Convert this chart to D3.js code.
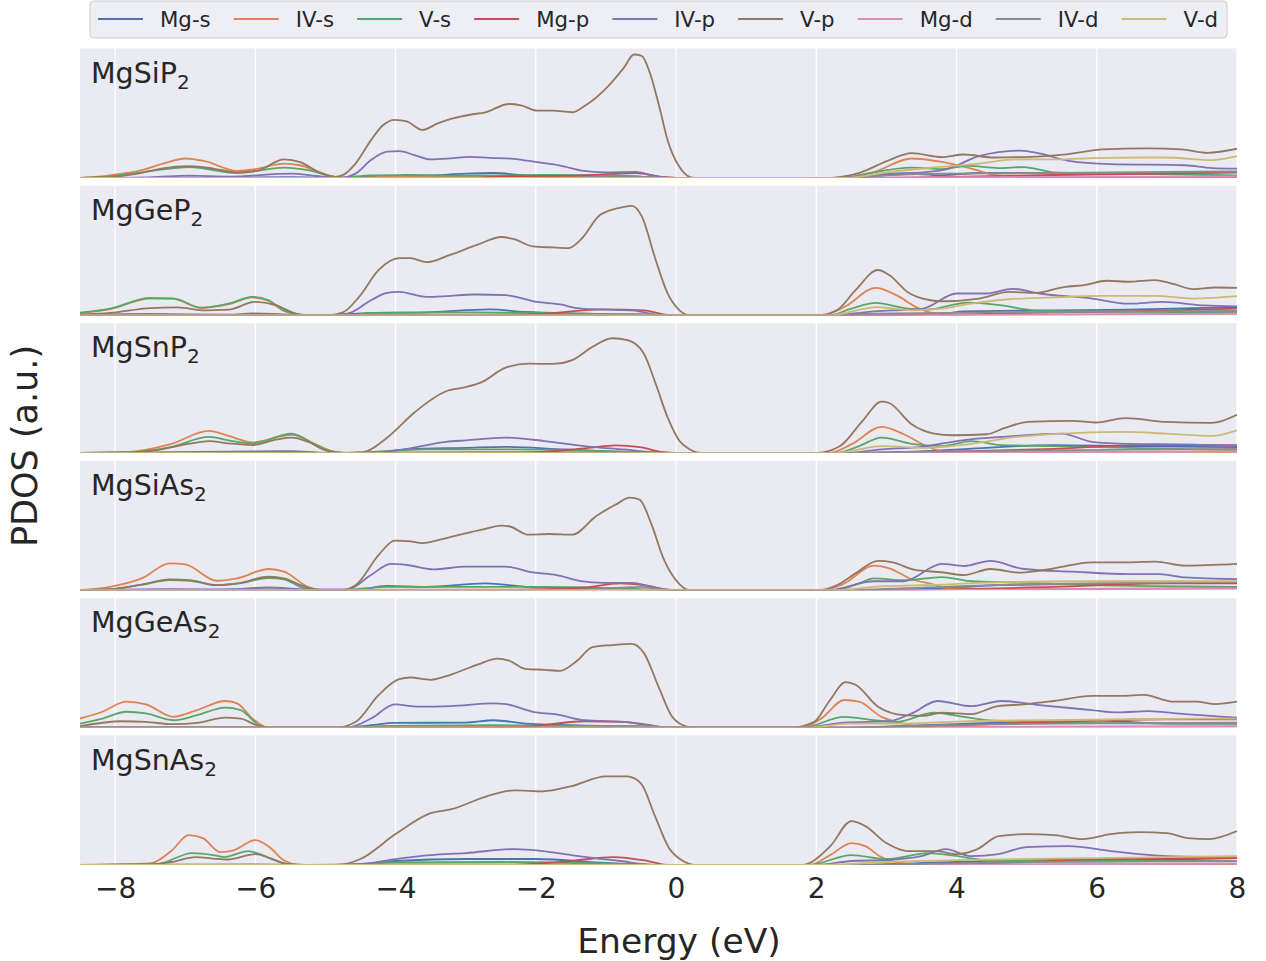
<!DOCTYPE html>
<html>
<head>
<meta charset="utf-8">
<script src="https://cdn.jsdelivr.net/npm/d3@7"></script>
<style>
  body { margin: 0; background: #ffffff; }
  svg { display: block; font-family: "DejaVu Sans", sans-serif; }
</style>
</head>
<body>
<svg id="chart" width="1266" height="961"></svg>
<script>
// ---- orbital channels, colours, tick values ----
const orbitals = ["Mg-s", "IV-s", "V-s", "Mg-p", "IV-p", "V-p", "Mg-d", "IV-d", "V-d"];
const colors = ["#4C72B0", "#DD8452", "#55A868", "#C44E52", "#8172B3", "#937860", "#DA8BC3", "#8C8C8C", "#CCB974"];
const xTicks = [-8, -6, -4, -2, 0, 2, 4, 6, 8];
const compoundBase = ["MgSiP", "MgGeP", "MgSnP", "MgSiAs", "MgGeAs", "MgSnAs"];
const compoundSub = ["2", "2", "2", "2", "2", "2"];

// ---- PDOS curves: [energy (eV), PDOS (a.u.)] ----
// MgSiP2
const MgSiP2_Mg_s = [[-8.5,0],[-7,0.3],[-5.5,0.8],[-4.8,0],[-4.35,1.7],[-3.56,2.4],[-3.0,4.4],[-2.6,5],[-2.15,2.7],[-1.31,1.7],[-0.18,0],[2.4,0],[2.72,1],[3.25,4.4],[3.79,2.7],[4.32,5],[5.39,5],[6.46,5],[8.0,5.7]];
const MgSiP2_IV_s = [[-8.5,0],[-8.07,2.7],[-7.62,7.8],[-7.28,15.2],[-7.0,19.6],[-6.72,16.9],[-6.26,7.1],[-5.98,9.1],[-5.59,14.5],[-5.36,12.8],[-5.03,4.4],[-4.86,1],[-4.6,0.3],[-4.2,1],[-2,1],[-0.3,1],[0,0],[2.2,0],[2.82,6],[3.36,19.6],[3.79,16.2],[4.21,9.5],[4.59,2.7],[5.12,1],[8.0,1]];
const MgSiP2_V_s = [[-8.5,0],[-8.07,1.7],[-7.5,7],[-6.94,11],[-6.26,5],[-5.59,10.5],[-5.25,7.8],[-4.97,2.7],[-4.8,0.3],[-4.35,2.7],[-3.84,3],[-3.0,2.4],[-1.87,3],[-0.74,2],[-0.18,0],[2.4,0],[2.72,4.4],[3.36,10.5],[3.79,9],[4.16,12.2],[4.59,10],[4.96,11],[5.39,5.7],[6.46,4.4],[8.0,2.7]];
const MgSiP2_Mg_p = [[-8.5,0],[-3,0],[-2.43,1.7],[-1.31,2.7],[-0.57,5],[-0.18,1],[0.05,0],[2.6,0],[4.32,1.7],[5.39,3],[6.99,4.4],[8.0,5.7]];
const MgSiP2_IV_p = [[-8.5,0],[-7.5,0.7],[-6.94,2.4],[-6.38,1.4],[-5.48,4.4],[-5.14,2],[-4.8,0],[-4.57,4.4],[-4.35,18],[-4.12,26.4],[-3.95,27],[-3.73,23],[-3.5,18.6],[-3.22,19.6],[-2.94,21.3],[-2.66,20.3],[-2.32,19.3],[-1.98,15.9],[-1.65,12.5],[-1.31,7.1],[-1.03,5.7],[-0.57,6.1],[-0.35,2.7],[-0.07,0],[2.29,0],[3.04,4.4],[3.52,5.7],[3.89,9.5],[4.32,22],[4.91,27.4],[5.18,24.7],[5.6,17.2],[6.19,13.9],[7.26,12.8],[7.64,10],[8.0,9.5]];
const MgSiP2_V_p = [[-8.5,0],[-8.07,1],[-7.67,4.4],[-7.34,9.5],[-6.94,11.8],[-6.6,9.5],[-6.26,5.7],[-5.98,7.1],[-5.59,18.6],[-5.36,15.9],[-5.08,5.4],[-4.86,1.2],[-4.74,3.4],[-4.57,14.5],[-4.35,38],[-4.18,53],[-4.01,58.4],[-3.84,56.8],[-3.62,48.3],[-3.39,55],[-3.17,60],[-2.94,63.5],[-2.72,66],[-2.38,74.3],[-2.21,73],[-1.98,67.6],[-1.76,67.6],[-1.48,66],[-1.31,72],[-0.97,92],[-0.74,111],[-0.6,124],[-0.49,122.6],[-0.38,107],[-0.24,72],[-0.12,38],[0.05,11],[0.2,1],[0.3,0],[2.1,0],[2.61,5],[3.04,18],[3.36,25],[3.79,21],[4.1,23.6],[4.53,20.6],[5.07,21.3],[5.6,24],[6.09,28.7],[6.73,29.7],[7.21,28.7],[7.58,25.3],[8.0,29.4]];
const MgSiP2_Mg_d = [[-8.5,0],[2.5,0],[3.25,0.7],[5.39,1],[8.0,1.7]];
const MgSiP2_IV_d = [[-8.5,0],[-1.5,0],[-0.85,2.7],[-0.3,0.5],[0,0],[2.4,0],[3.04,2.7],[3.79,4.4],[5.39,5],[8.0,6.7]];
const MgSiP2_V_d = [[-8.5,0],[2.4,0],[3.04,6],[3.52,9.5],[4.32,14.5],[4.86,18.6],[5.39,18.6],[6.09,20.3],[6.99,20.6],[7.64,18],[8.0,22]];

// MgGeP2
const MgGeP2_Mg_s = [[-8.5,0],[-5,0],[-4.35,2.4],[-3.56,3],[-2.66,6],[-2.15,3.4],[-1.31,1.7],[-0.18,0],[2.6,0],[3.79,1.7],[4.11,4],[5.39,5],[6.46,5.7],[8.0,8.4]];
const MgGeP2_IV_s = [[-8.5,2.4],[-8.07,6.4],[-7.5,16.9],[-7.17,16.5],[-6.77,7.4],[-6.38,11.2],[-6.04,18],[-5.81,14.5],[-5.59,4.5],[-5.36,0.5],[-5.14,0],[-4.5,0.5],[-2,0.7],[-0.3,0.5],[0,0],[2.07,0],[2.4,8.4],[2.85,27.7],[3.14,20.3],[3.47,6.8],[3.79,0.7],[5,0.5],[8.0,1.7]];
const MgGeP2_V_s = [[-8.5,2.7],[-8.07,6.8],[-7.5,17.6],[-7.17,17],[-6.77,7.8],[-6.38,11.8],[-6.04,18.6],[-5.81,15.2],[-5.59,5],[-5.36,0.7],[-5.14,0],[-4.69,0],[-4.35,2.4],[-3.0,3],[-1.87,2.4],[-0.74,1],[-0.18,0],[2.18,0],[2.5,6.8],[2.85,12.5],[3.25,7.4],[3.57,5.7],[4.16,12.8],[4.64,10],[5.12,5],[5.93,4],[8.0,3]];
const MgGeP2_Mg_p = [[-8.5,0],[-2.5,0],[-1.87,1.7],[-1.03,6],[-0.46,5],[-0.07,0],[2.6,0],[3.79,0.5],[4.86,2.4],[6.46,4],[8.0,6.8]];
const MgGeP2_IV_p = [[-8.5,0.7],[-7.5,1.4],[-6.38,0.7],[-6.04,2],[-5.59,1],[-5.14,0],[-4.69,1.7],[-4.35,15.2],[-4.12,22.6],[-3.95,23.6],[-3.56,18.6],[-3.28,19.3],[-2.88,21],[-2.43,20.3],[-1.98,13.5],[-1.65,11],[-1.42,7.4],[-1.08,6],[-0.63,5],[-0.18,0],[2.18,0],[2.82,4],[3.52,6.8],[4.0,22],[4.43,22],[4.8,26.7],[5.18,22],[5.93,16.9],[6.46,11.8],[6.94,13.5],[7.53,10],[8.0,9.1]];
const MgGeP2_V_p = [[-8.5,0.7],[-8.07,2.4],[-7.5,7.4],[-7.11,8.1],[-6.72,5],[-6.38,5.7],[-6.01,13.5],[-5.7,10],[-5.42,1.7],[-5.25,0],[-4.97,0],[-4.74,3.4],[-4.52,18.6],[-4.24,45.6],[-3.95,57.4],[-3.79,57.4],[-3.56,53.4],[-3.22,60.8],[-2.83,71],[-2.49,78.7],[-2.32,76.7],[-2.04,69.3],[-1.76,68.2],[-1.53,67.6],[-1.36,76],[-1.08,101],[-0.74,109],[-0.63,110],[-0.49,99.7],[-0.29,55.7],[-0.12,22],[0.05,5],[0.2,0],[2.02,0],[2.29,5],[2.56,25.3],[2.88,45.6],[3.04,40.5],[3.3,23.6],[3.63,15.2],[3.79,14.2],[4.32,16.9],[4.75,23.6],[5.12,22.6],[5.55,28.7],[5.82,30.4],[6.14,34.8],[6.46,33.8],[6.83,35.5],[7.1,31.4],[7.37,26.4],[7.69,28],[8.0,27.7]];
const MgGeP2_Mg_d = [[-8.5,0],[2.6,0],[5.39,1],[8.0,1.7]];
const MgGeP2_IV_d = [[-8.5,0],[-1.2,0],[-0.6,1.5],[0,0],[2.4,0],[2.72,1.7],[5.39,3.4],[8.0,4.4]];
const MgGeP2_V_d = [[-8.5,0],[2.18,0],[2.88,8.4],[3.36,5],[3.79,6.8],[4.21,11.8],[4.75,16.2],[5.39,18],[6.09,19.6],[6.83,19.6],[7.37,16.9],[8.0,19.3]];

// MgSnP2
const MgSnP2_Mg_s = [[-8.5,0],[-4.35,0],[-3.84,3.4],[-3.0,5],[-2.43,6],[-1.59,3.4],[-0.18,0],[2.6,0],[3.79,2.4],[5.39,7.8],[6.46,6.8],[8.0,5.7]];
const MgSnP2_IV_s = [[-8.5,0],[-7.84,0.7],[-7.22,8.4],[-6.66,22],[-6.38,16.9],[-6.04,10.5],[-5.48,17.9],[-5.14,8.4],[-4.91,1.7],[-4.74,0],[-4.3,0.5],[-2,1],[-0.3,0.5],[0,0],[2.18,0],[2.5,8.4],[2.93,26],[3.25,18.6],[3.57,6.8],[3.84,1],[5,0.5],[8.0,0.7]];
const MgSnP2_V_s = [[-8.5,0],[-7.84,0.5],[-7.22,5.5],[-6.66,15.9],[-6.38,12.5],[-6.04,9.5],[-5.48,19.3],[-5.14,8],[-4.91,1.5],[-4.74,0],[-3.56,3.4],[-2.43,3.4],[-1.31,2.4],[-0.18,0],[2.29,0],[2.61,6.8],[2.93,15.2],[3.36,9],[3.79,6.8],[4.21,11.8],[4.64,7.8],[5.39,6.8],[6.46,5],[8.0,2.7]];
const MgSnP2_Mg_p = [[-8.5,0],[-2.2,0],[-1.31,4.4],[-0.86,7.4],[-0.52,5.7],[-0.18,0.7],[0,0],[3.0,0],[4.21,1.7],[5.39,4],[6.46,7.4],[8.0,7.8]];
const MgSnP2_IV_p = [[-8.5,0],[-5.48,1.7],[-5.0,0],[-4.35,0],[-3.84,4],[-3.28,11],[-3.0,12.5],[-2.43,15.2],[-1.87,11.8],[-1.31,6.8],[-0.74,3.4],[-0.18,0],[2.45,0],[2.93,3.4],[3.47,5.7],[4.11,12.8],[4.64,15.9],[5.5,19.3],[5.93,11],[6.46,9],[7.26,8.4],[8.0,6.8]];
const MgSnP2_V_p = [[-8.5,0],[-7.84,0.3],[-7.39,3],[-6.94,9.1],[-6.66,11.8],[-6.38,9.5],[-6.04,7.8],[-5.7,13.2],[-5.48,15.2],[-5.25,11.1],[-4.97,1.7],[-4.69,0],[-4.46,0.7],[-4.12,15.2],[-3.73,40.5],[-3.28,61.8],[-3.0,65.9],[-2.77,71],[-2.43,85.5],[-2.1,89.5],[-1.76,89.2],[-1.48,93],[-1.19,106.4],[-0.91,115],[-0.69,113],[-0.46,99.7],[-0.29,69.3],[-0.12,35.5],[0.05,11.8],[0.2,3.4],[0.35,0],[2.02,0],[2.34,6.8],[2.66,32],[2.93,51.4],[3.04,50],[3.36,28.7],[3.68,19.3],[3.95,17.6],[4.43,18.6],[4.7,25.3],[5.02,31],[5.66,32],[5.98,30.4],[6.41,34.8],[6.99,31],[7.64,30],[8.0,38.2]];
const MgSnP2_Mg_d = [[-8.5,0],[3,0],[5.39,0.7],[8.0,1.7]];
const MgSnP2_IV_d = [[-8.5,0],[2.5,0],[3.25,1],[5.39,2.4],[8.0,4]];
const MgSnP2_V_d = [[-8.5,0],[2.29,0],[2.93,6.8],[3.52,5],[4.21,9],[4.86,15.9],[5.5,19.3],[6.35,21],[6.99,19.3],[7.64,17],[8.0,22.6]];

// MgSiAs2
const MgSiAs2_Mg_s = [[-8.5,0],[-6,0.8],[-5.0,0],[-4.6,0],[-4.12,4.4],[-3.56,3.4],[-2.72,6.8],[-2.15,3.4],[-1.31,1.7],[-0.18,0],[2.5,0],[3.79,1.7],[4.59,5],[6.46,6.8],[8.0,7.8]];
const MgSiAs2_IV_s = [[-8.5,0],[-8.07,3.4],[-7.62,11.8],[-7.22,27],[-7.0,26],[-6.55,9.5],[-6.26,11.8],[-5.81,21.3],[-5.59,18.6],[-5.25,3.4],[-5.08,0],[-4.5,0.3],[-2,0.7],[-0.3,0.5],[0,0],[2.07,0],[2.4,6.8],[2.82,24.7],[3.04,22],[3.36,11],[3.68,5.7],[3.89,1.7],[5,1],[8.0,2.4]];
const MgSiAs2_V_s = [[-8.5,0],[-8.07,1],[-7.62,5.5],[-7.22,10.1],[-6.94,9.5],[-6.55,5],[-6.26,6.5],[-5.81,12.2],[-5.59,11],[-5.36,3.4],[-5.14,0],[-4.8,0],[-4.12,3.4],[-3.0,3.4],[-1.87,3.4],[-0.74,1.7],[-0.18,0],[2.29,0],[2.61,6.8],[2.82,11.8],[3.25,10],[3.79,13.2],[4.21,9],[4.86,7.8],[5.93,5],[8.0,3.4]];
const MgSiAs2_Mg_p = [[-8.5,0],[-2.5,0],[-1.31,2.7],[-0.8,6.8],[-0.46,5],[-0.12,0.7],[0,0],[3,0],[5.39,3.4],[6.99,6.8],[8.0,6.8]];
const MgSiAs2_IV_p = [[-8.5,0],[-7.22,1],[-6.5,0.5],[-5.81,2.7],[-5.25,0.7],[-4.69,0.7],[-4.35,15.2],[-4.07,26.4],[-3.84,25.3],[-3.45,21],[-3.0,23.6],[-2.43,23.6],[-2.04,17.9],[-1.7,15.2],[-1.36,9.1],[-1.03,7.4],[-0.63,7.4],[-0.35,3.4],[-0.07,0],[2.18,0],[2.82,9],[3.25,9],[3.79,26.4],[4.11,24.3],[4.48,29.4],[4.96,21.3],[5.66,18.6],[6.46,16.2],[6.89,16.2],[7.26,12.8],[8.0,11.1]];
const MgSiAs2_V_p = [[-8.5,0],[-8.07,1],[-7.62,5.7],[-7.22,10.8],[-6.94,10.1],[-6.55,5],[-6.26,6.8],[-5.81,13.5],[-5.59,11.8],[-5.31,4],[-5.03,0],[-4.8,0],[-4.57,5],[-4.24,35.5],[-4.01,49.7],[-3.79,49],[-3.62,47.3],[-3.22,53.4],[-2.77,60.8],[-2.49,64.9],[-2.38,64.2],[-2.1,55.7],[-1.81,56.4],[-1.48,55.7],[-1.14,74.3],[-0.86,86],[-0.66,93],[-0.52,91],[-0.35,66],[-0.18,32],[0.0,10],[0.2,0],[2.02,0],[2.29,5],[2.56,16.9],[2.88,29.4],[3.09,28],[3.41,20.3],[3.79,18],[4.11,15.2],[4.48,21.3],[4.91,17.6],[5.39,22],[5.93,28],[6.46,28],[6.83,28.7],[7.26,24.7],[8.0,26.4]];
const MgSiAs2_Mg_d = [[-8.5,0],[3,0],[5.39,0.7],[8.0,1.7]];
const MgSiAs2_IV_d = [[-8.5,0],[-1.5,0],[-0.5,3.4],[-0.12,0],[2.3,0],[3.79,3.4],[4.86,5.7],[6.46,7.4],[8.0,8.4]];
const MgSiAs2_V_d = [[-8.5,0],[2.29,0],[2.82,3.4],[3.52,5],[4.59,7.8],[5.93,9],[6.99,9],[8.0,9]];

// MgGeAs2
const MgGeAs2_Mg_s = [[-8.5,0],[-4.7,0],[-4.35,2.4],[-4.01,4.7],[-3.0,5],[-2.6,7.4],[-2.15,4],[-1.03,1.7],[-0.18,0],[2.4,0],[3.25,1.7],[4.86,5.7],[5.93,7.4],[6.99,4],[8.0,4]];
const MgGeAs2_IV_s = [[-8.5,9.1],[-8.18,15.9],[-7.84,26],[-7.56,23.3],[-7.17,10.8],[-6.83,17.6],[-6.43,26.7],[-6.26,24.3],[-6.04,9.1],[-5.81,0],[-4.5,0.3],[-2,0.7],[-0.3,0.5],[0,0],[1.8,0],[2.07,9.1],[2.4,27.7],[2.61,26],[2.93,10.8],[3.25,4],[3.52,0.7],[5,0.5],[8.0,1]];
const MgGeAs2_V_s = [[-8.5,4],[-8.18,9.1],[-7.84,15.9],[-7.56,14.2],[-7.17,7.4],[-6.83,12.5],[-6.43,20],[-6.21,17.6],[-5.93,1.7],[-5.81,0],[-4.6,0],[-4.12,1.7],[-2.6,2.4],[-0.74,1.4],[-0.18,0],[1.8,0],[2.4,10.8],[2.82,7.4],[3.14,5.7],[3.68,14.9],[4.11,10.8],[4.43,7.4],[5.39,5],[6.99,4],[8.0,4]];
const MgGeAs2_Mg_p = [[-8.5,0],[-2.4,0],[-2.15,0.7],[-1.31,6.4],[-0.74,5.7],[-0.41,2.4],[-0.12,0],[2.4,0],[3.25,0.7],[5.39,5.7],[6.99,8.4],[8.0,8.4]];
const MgGeAs2_IV_p = [[-8.5,0.7],[-6.4,0.7],[-5.8,0],[-4.69,0],[-4.35,9.1],[-4.01,23.3],[-3.67,21],[-3.22,21.6],[-2.6,24.3],[-2.43,23.6],[-2.04,15.9],[-1.7,13.2],[-1.31,7.4],[-0.74,5.7],[-0.41,3],[-0.12,0],[1.8,0],[2.4,5],[3.04,6.4],[3.36,14.2],[3.73,26.7],[4.21,21.6],[4.64,26.7],[5.18,22.6],[5.93,17.6],[6.3,15.2],[6.73,16.6],[7.26,13.5],[8.0,10.1]];
const MgGeAs2_V_p = [[-8.5,1.4],[-7.9,6.4],[-7.56,5.7],[-7.17,3.4],[-6.83,4.7],[-6.43,10.1],[-6.21,9.1],[-5.98,2.4],[-5.81,0],[-4.86,0],[-4.57,5.7],[-4.24,32.8],[-3.95,48.6],[-3.79,50.3],[-3.5,48],[-3.22,53],[-2.83,63.2],[-2.55,69.3],[-2.38,67.2],[-2.15,59],[-1.87,58],[-1.65,57],[-1.42,66.6],[-1.19,80.7],[-0.91,82.8],[-0.63,84],[-0.46,75],[-0.24,39.5],[-0.07,12.5],[0.1,2.4],[0.25,0],[1.65,0],[1.97,5.7],[2.18,26],[2.42,45.6],[2.56,43],[2.88,21],[3.25,12.5],[3.52,11.8],[3.79,14.9],[4.21,13.5],[4.59,21.6],[4.96,23.3],[5.39,26.7],[5.93,31.8],[6.35,31.8],[6.67,32.8],[7.1,26],[7.42,26],[7.69,23.6],[8.0,26]];
const MgGeAs2_Mg_d = [[-8.5,0],[2.6,0],[5.39,1],[8.0,1.4]];
const MgGeAs2_IV_d = [[-8.5,0],[-1.2,0],[-0.6,1.7],[0,0],[2.3,0],[3.79,2.4],[5.39,4],[8.0,5]];
const MgGeAs2_V_d = [[-8.5,0],[1.9,0],[2.45,4],[3.25,4],[4.32,6.8],[5.39,7.4],[6.46,8.4],[8.0,9.1]];

// MgSnAs2
const MgSnAs2_Mg_s = [[-8.5,0],[-4.7,0],[-4,4],[-3,6],[-2,6],[-1,2],[-0.2,0],[2.3,0],[4,3],[6,6],[8,4]];
const MgSnAs2_IV_s = [[-8.5,0],[-7.5,1.5],[-7.2,14],[-6.95,30],[-6.75,27],[-6.5,13],[-6.3,15],[-6.0,25],[-5.8,18],[-5.6,5],[-5.35,0],[-4.5,0.3],[-2,0.7],[0,0],[1.9,0],[2.2,10],[2.5,22],[2.7,19],[2.9,9],[3.2,2],[3.5,0.5],[8.0,1]];
const MgSnAs2_V_s = [[-8.5,0],[-7.4,1],[-6.9,12],[-6.6,10],[-6.45,8],[-6.1,14],[-5.9,10],[-5.6,2],[-5.35,0],[-4.8,0],[-4,2.5],[-2.5,3],[-1,1.5],[-0.2,0],[1.9,0],[2.5,10],[3.0,6],[3.6,12],[4.1,8],[4.5,4],[8.0,4]];
const MgSnAs2_Mg_p = [[-8.5,0],[-2.5,0],[-1.5,4],[-0.9,8],[-0.4,4],[-0.1,0],[2.5,0],[5,3],[6.5,7],[8,7]];
const MgSnAs2_IV_p = [[-8.5,0],[-6,0.5],[-5.2,0],[-4.5,1],[-4,6],[-3.5,10],[-3,12],[-2.3,16],[-1.9,14],[-1.5,10],[-0.8,4],[-0.3,0],[2.0,0],[2.5,4],[3.0,5],[3.5,9],[3.85,16],[4.2,9],[4.6,11],[5.0,18],[5.6,19],[6.2,14],[7.0,9],[8.0,8]];
const MgSnAs2_V_p = [[-8.5,0],[-7.5,0.3],[-7.2,3],[-6.85,8],[-6.6,6.5],[-6.4,5.5],[-6.0,11],[-5.8,7],[-5.55,1],[-5.3,0],[-4.85,0],[-4.5,6],[-4.0,31],[-3.5,52],[-3.2,56],[-2.7,69],[-2.3,75],[-1.9,74],[-1.5,79],[-1.0,89],[-0.7,89],[-0.5,82],[-0.3,49],[-0.1,17],[0.1,4],[0.3,0],[1.8,0],[2.2,19],[2.5,44],[2.7,39],[3.0,22],[3.3,14],[3.7,14],[4.0,11],[4.3,16],[4.6,29],[5.0,31],[5.4,30],[5.8,26],[6.2,31],[6.6,33],[7.0,32],[7.3,27],[7.6,26],[8.0,34]];
const MgSnAs2_Mg_d = [[-8.5,0],[3,0],[8,1.5]];
const MgSnAs2_IV_d = [[-8.5,0],[2.5,0],[5,3],[8,4]];
const MgSnAs2_V_d = [[-8.5,0],[2.0,0],[3,3],[5,6],[6,7],[8,9]];

// table: one row per compound, one column per orbital channel
const pdos = [
  [MgSiP2_Mg_s, MgSiP2_IV_s, MgSiP2_V_s, MgSiP2_Mg_p, MgSiP2_IV_p, MgSiP2_V_p, MgSiP2_Mg_d, MgSiP2_IV_d, MgSiP2_V_d],
  [MgGeP2_Mg_s, MgGeP2_IV_s, MgGeP2_V_s, MgGeP2_Mg_p, MgGeP2_IV_p, MgGeP2_V_p, MgGeP2_Mg_d, MgGeP2_IV_d, MgGeP2_V_d],
  [MgSnP2_Mg_s, MgSnP2_IV_s, MgSnP2_V_s, MgSnP2_Mg_p, MgSnP2_IV_p, MgSnP2_V_p, MgSnP2_Mg_d, MgSnP2_IV_d, MgSnP2_V_d],
  [MgSiAs2_Mg_s, MgSiAs2_IV_s, MgSiAs2_V_s, MgSiAs2_Mg_p, MgSiAs2_IV_p, MgSiAs2_V_p, MgSiAs2_Mg_d, MgSiAs2_IV_d, MgSiAs2_V_d],
  [MgGeAs2_Mg_s, MgGeAs2_IV_s, MgGeAs2_V_s, MgGeAs2_Mg_p, MgGeAs2_IV_p, MgGeAs2_V_p, MgGeAs2_Mg_d, MgGeAs2_IV_d, MgGeAs2_V_d],
  [MgSnAs2_Mg_s, MgSnAs2_IV_s, MgSnAs2_V_s, MgSnAs2_Mg_p, MgSnAs2_IV_p, MgSnAs2_V_p, MgSnAs2_Mg_d, MgSnAs2_IV_d, MgSnAs2_V_d]
];

// ---- layout ----
const svg = d3.select("#chart");
const plotLeft = 80, plotRight = 1237;
const panelTop0 = 48.5, panelStep = 137.4, panelH = 129.5;
const x = d3.scaleLinear().domain([-8.5, 8]).range([plotLeft, plotRight]);
const axesBg = "#EAEAF2";

pdos.forEach((series, i) => {
  const top = panelTop0 + i * panelStep;
  const y = d3.scaleLinear().domain([0, 130]).range([top + panelH, top]);
  const g = svg.append("g");

  g.append("rect")
    .attr("x", plotLeft).attr("y", top)
    .attr("width", plotRight - plotLeft).attr("height", panelH)
    .attr("fill", axesBg);

  // vertical grid lines
  g.selectAll("line.grid").data(xTicks).join("line")
    .attr("class", "grid")
    .attr("x1", d => x(d)).attr("x2", d => x(d))
    .attr("y1", top).attr("y2", top + panelH)
    .attr("stroke", "#ffffff").attr("stroke-width", 1.3);

  const clipId = "clip" + i;
  g.append("clipPath").attr("id", clipId).append("rect")
    .attr("x", plotLeft).attr("y", top - 2)
    .attr("width", plotRight - plotLeft).attr("height", panelH + 2);

  const line = d3.line()
    .x(d => x(d[0]))
    .y(d => y(d[1]))
    .curve(d3.curveMonotoneX);

  g.append("g").attr("clip-path", `url(#${clipId})`)
    .selectAll("path").data(series).join("path")
    .attr("d", d => line(d))
    .attr("fill", "none")
    .attr("stroke", (d, k) => colors[k])
    .attr("stroke-width", 1.8)
    .attr("stroke-linejoin", "round");

  const label = g.append("text")
    .attr("x", 91).attr("y", top + 34)
    .attr("font-size", 28.5).attr("fill", "#262626");
  label.append("tspan").text(compoundBase[i]);
  label.append("tspan").attr("font-size", 20).attr("dy", 6).text(compoundSub[i]);
});

// ---- x axis ----
const lastBottom = panelTop0 + 5 * panelStep + panelH;
const xAxis = d3.axisBottom(x).tickValues(xTicks).tickSize(0).tickPadding(13)
  .tickFormat(d => d < 0 ? "\u2212" + Math.abs(d) : String(d));
const axG = svg.append("g").attr("transform", `translate(0,${lastBottom})`).call(xAxis);
axG.select(".domain").remove();
axG.selectAll("text").attr("font-size", 28).attr("fill", "#262626")
  .attr("font-family", "DejaVu Sans, sans-serif");

svg.append("text")
  .attr("x", 679).attr("y", 953)
  .attr("text-anchor", "middle")
  .attr("font-size", 34.5).attr("fill", "#262626")
  .text("Energy (eV)");

svg.append("text")
  .attr("transform", "translate(37,446) rotate(-90)")
  .attr("text-anchor", "middle")
  .attr("font-size", 35).attr("fill", "#262626")
  .text("PDOS (a.u.)");

// ---- legend ----
const legG = svg.append("g");
const legBox = legG.append("rect")
  .attr("x", 90).attr("y", 1).attr("height", 37).attr("rx", 4)
  .attr("fill", "#EAEAF2").attr("fill-opacity", 0.8)
  .attr("stroke", "#CCCCCC").attr("stroke-width", 1);
let cx = 98;
orbitals.forEach((name, k) => {
  legG.append("line")
    .attr("x1", cx).attr("x2", cx + 45)
    .attr("y1", 19).attr("y2", 19)
    .attr("stroke", colors[k]).attr("stroke-width", 1.8);
  const t = legG.append("text")
    .attr("x", cx + 45 + 17).attr("y", 26.5)
    .attr("font-size", 21.3).attr("fill", "#262626")
    .text(name);
  const w = t.node().getComputedTextLength();
  cx = cx + 45 + 17 + w + 23;
});
legBox.attr("width", cx - 23 + 9 - 90);
</script>
</body>
</html>
